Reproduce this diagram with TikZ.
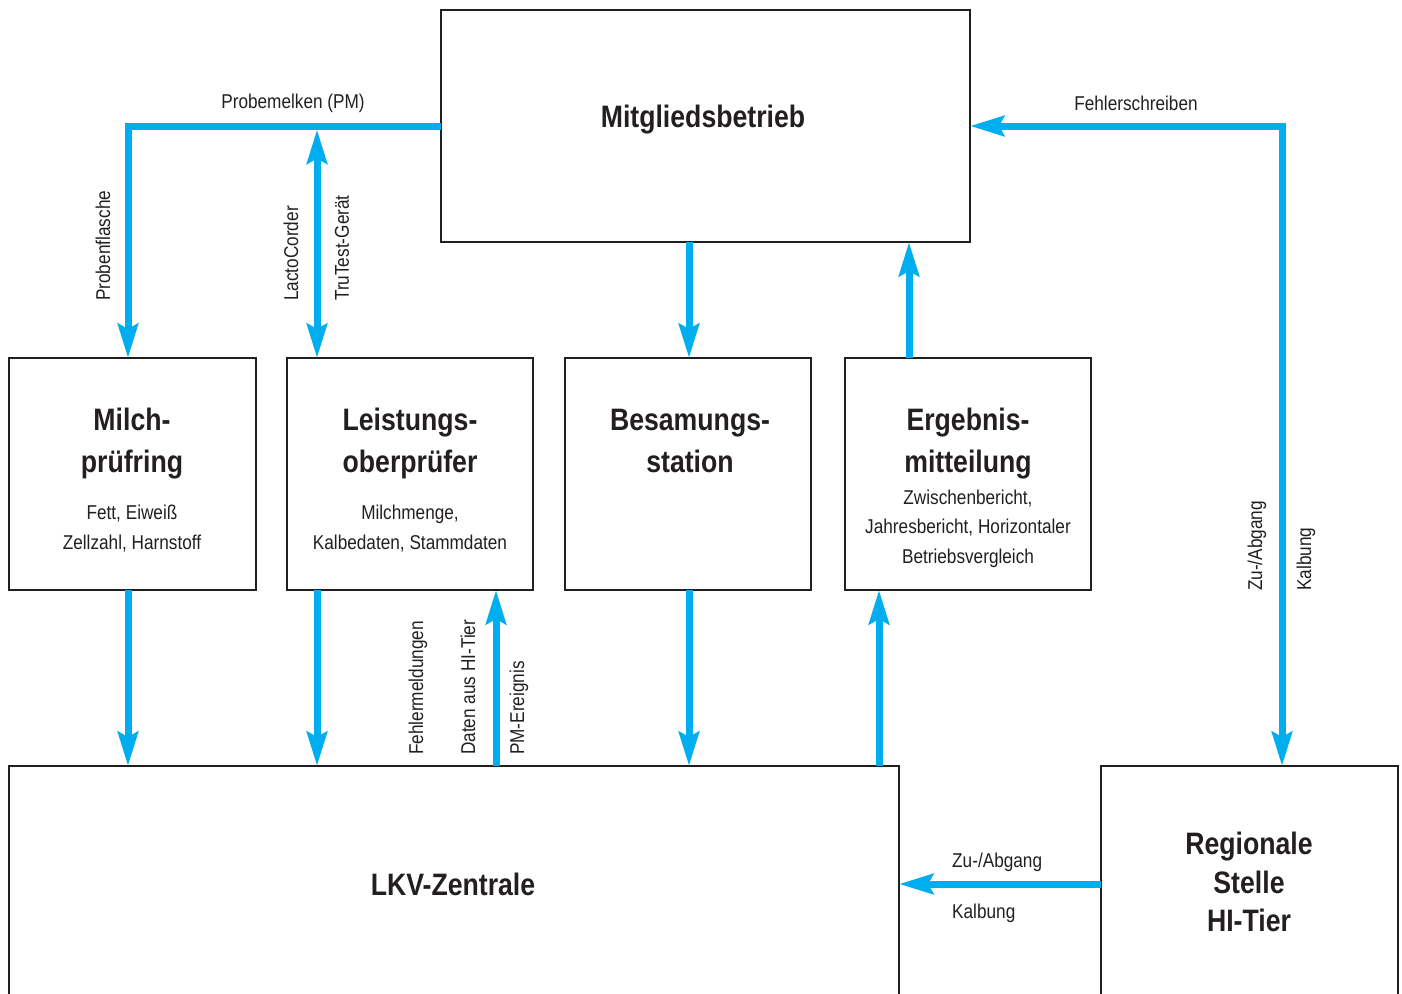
\documentclass[tikz,border=0pt]{standalone}
\usepackage{fontspec}
\setmainfont{Liberation Sans}[FakeStretch=0.86]
\usepackage{tikz}
\usetikzlibrary{calc}
\usetikzlibrary{arrows.meta}
\usetikzlibrary{positioning}
\definecolor{lkvblue}{HTML}{00AEEF}
\definecolor{lkvdark}{HTML}{231F20}
\tikzset{>={Stealth[length=34pt, width=20pt, inset=5pt]}}
\tikzset{box/.style = {draw=lkvdark, line width=2.5pt, inner sep=0, outer sep=0}}
\tikzset{flow/.style = {->, draw=lkvblue, line width=7pt}}
\tikzset{title/.style = {align=center, text=lkvdark, font=\fontsize{31}{42}\selectfont\bfseries}}
\tikzset{info/.style = {align=center, text=lkvdark, font=\fontsize{20}{29.5}\selectfont}}
\tikzset{lab/.style = {text=lkvdark, font=\fontsize{20}{24}\selectfont, inner sep=0}}
\tikzset{vlab/.style = {lab, rotate=90, anchor=west}}

\begin{document}
\begin{tikzpicture}[x=1pt, y=-1pt]
\clip (0, 0) rectangle (1402, 993);
% boxes
\node [box, minimum width=529, minimum height=232] (mitglied) at (705.5, 126) {};
\node [box, minimum width=247, minimum height=232] (milch) at (132.5, 474) {};
\node [box, minimum width=246, minimum height=232] (leist) at (410, 474) {};
\node [box, minimum width=246, minimum height=232] (besam) at (688, 474) {};
\node [box, minimum width=246, minimum height=232] (ergeb) at (968, 474) {};
\node [box, minimum width=890, minimum height=260] (lkv) at (454, 896) {};
\node [box, minimum width=297, minimum height=260] (regio) at (1249.5, 896) {};
% texts in the boxes
\node [title] (mitgliedT) at (703, 120) {Mitgliedsbetrieb};
\node [title] (milchT) at (132, 444) {Milch-\\prüfring};
\node [info] (milchI) at (132, 528.5) {Fett, Eiweiß\\Zellzahl, Harnstoff};
\node [title] (leistT) at (410, 443) {Leistungs-\\oberprüfer};
\node [info] (leistI) at (410, 528.5) {Milchmenge,\\Kalbedaten, Stammdaten};
\node [title] (besamT) at (690, 441) {Besamungs-\\station};
\node [title] (ergebT) at (968, 444) {Ergebnis-\\mitteilung};
\node [info] (ergebI) at (968, 528.5) {Zwischenbericht,\\Jahresbericht, Horizontaler\\Betriebsvergleich};
\node [title] (lkvT) at (453, 884) {LKV-Zentrale};
\node [title, font=\fontsize{31}{38.5}\selectfont\bfseries] (regioT) at (1249, 882) {Regionale\\Stelle\\HI-Tier};
% columns of the arrows
\coordinate (c1) at (128, 0);
\coordinate (c2) at (317, 0);
\coordinate (c3) at (496, 0);
\coordinate (c4) at (689, 0);
\coordinate (c5) at (879, 0);
\coordinate (c6) at (909, 0);
\coordinate (c7) at (1282, 0);
\coordinate (pmline) at (0, 129.5);
\coordinate (hirow) at (0, 884);
% arrows
\draw [flow] (mitglied.west) -| (milch.north -| c1);
\draw [flow, <->] (leist.north -| c2) -- (c2 |- pmline);
\draw [flow] (mitglied.south -| c4) -- (besam.north -| c4);
\draw [flow] (ergeb.north -| c6) -- (mitglied.south -| c6);
\draw [flow, <->] (mitglied.east) -| (regio.north -| c7);
\draw [flow] (milch.south -| c1) -- (lkv.north -| c1);
\draw [flow] (leist.south -| c2) -- (lkv.north -| c2);
\draw [flow] (lkv.north -| c3) -- (leist.south -| c3);
\draw [flow] (besam.south -| c4) -- (lkv.north -| c4);
\draw [flow] (lkv.north -| c5) -- (ergeb.south -| c5);
\draw [flow] (regio.west |- hirow) -- (lkv.east |- hirow);
% labels of the arrows
\node [lab] (pmL) at (293, 103) {Probemelken (PM)};
\node [lab] (fehlerL) at (1136, 103) {Fehlerschreiben};
\node [vlab] (flascheL) at (103, 301) {Probenflasche};
\node [vlab] (lactoL) at (291, 301) {LactoCorder};
\node [vlab] (trutestL) at (342, 301) {TruTest-Gerät};
\node [vlab] (fmeldL) at (418, 755) {Fehlermeldungen};
\node [vlab] (datenL) at (468, 755) {Daten aus HI-Tier};
\node [vlab] (pmevL) at (519, 755) {PM-Ereignis};
\node [vlab] (zuabL) at (1257, 591) {Zu-/Abgang};
\node [vlab] (kalbL) at (1306, 591) {Kalbung};
\node [lab, anchor=west] (zuabH) at (952, 862) {Zu-/Abgang};
\node [lab, anchor=west] (kalbH) at (952, 913) {Kalbung};
\end{tikzpicture}
\end{document}
